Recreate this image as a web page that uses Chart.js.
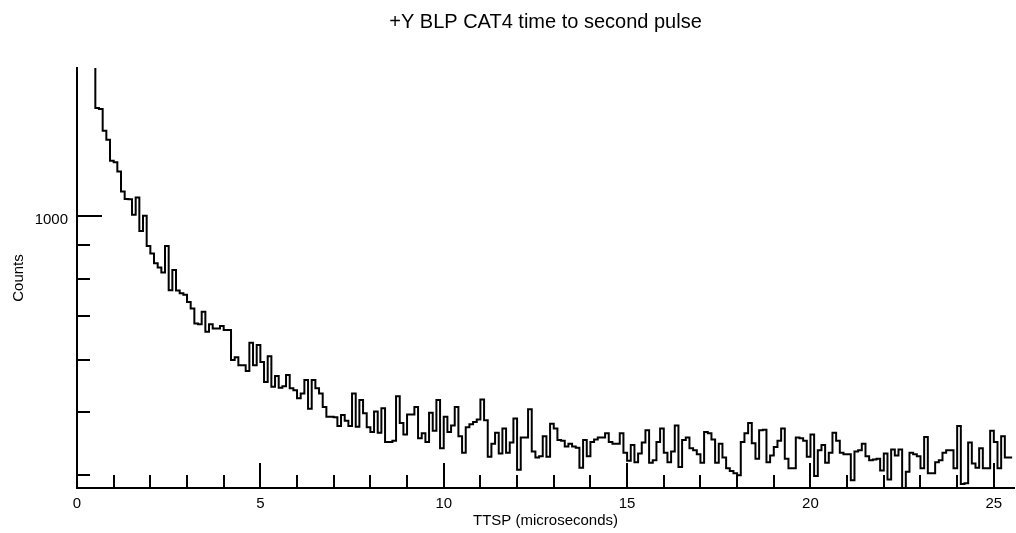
<!DOCTYPE html>
<html>
<head>
<meta charset="utf-8">
<title>TTSP histogram</title>
<script src="https://cdn.jsdelivr.net/npm/chart.js@4.4.1/dist/chart.umd.min.js"></script>
<style>
  html, body { margin: 0; padding: 0; background: #fff; }
  #wrap { width: 1016px; height: 533px; }
</style>
</head>
<body>
<div id="wrap"><canvas id="ttsp-chart" width="1016" height="533"></canvas></div>
<script>
// Time to second pulse, 0.1 us bins starting at 0.5 us
const binStart = 0.5;
const binWidth = 0.1;
const leadCount = 1800; // 0.4-0.5 us bin, off the top of the plot
const counts = [
  1463, 1458, 1350, 1308, 1214, 1208, 1169, 1089, 1061, 1060,
  1003, 1066, 947, 1000, 898, 875, 845, 832, 818, 898,
  768, 825, 767, 760, 756, 737, 720, 683, 681, 712,
  663, 681, 671, 671, 677, 667, 667, 600, 606, 589,
  589, 577, 638, 589, 633, 596, 555, 608, 546, 567,
  544, 547, 569, 543, 539, 524, 533, 559, 505, 559,
  543, 533, 508, 491, 491, 490, 475, 494, 484, 475,
  533, 474, 521, 497, 473, 465, 500, 464, 506, 449,
  449, 451, 528, 480, 461, 495, 495, 508, 455, 463,
  449, 498, 467, 521, 439, 491, 465, 476, 508, 458,
  432, 473, 478, 482, 486, 522, 485, 426, 446, 464,
  431, 471, 432, 448, 488, 407, 456, 456, 504, 434,
  425, 427, 458, 426, 479, 471, 452, 451, 442, 446,
  442, 440, 410, 452, 427, 449, 453, 456, 456, 463,
  449, 446, 446, 463, 432, 420, 444, 418, 431, 448,
  468, 417, 421, 449, 471, 432, 418, 434, 476, 411,
  452, 456, 439, 436, 430, 417, 465, 463, 453, 417,
  446, 425, 409, 405, 402, 399, 449, 463, 480, 447,
  423, 468, 469, 418, 428, 441, 451, 471, 423, 409,
  409, 456, 455, 451, 426, 461, 398, 436, 444, 417,
  432, 464, 451, 432, 430, 430, 392, 434, 436, 446,
  427, 421, 422, 423, 406, 431, 393, 437, 428, 437,
  375, 404, 432, 430, 427, 409, 457, 402, 402, 418,
  421, 432, 436, 436, 409, 475, 387, 388, 448, 416,
  410, 439, 409, 409, 467, 449, 409, 458, 425, 425
];
const xMajorTicks = [0, 5, 10, 15, 20, 25];
const yMajorTicks = [1000];
const yMinorTicks = [400, 500, 600, 700, 800, 900];

const FONT = 'Liberation Sans, Arial, Helvetica, sans-serif';

// histogram outline: one point per left bin edge, plus the closing right edge
const points = [{ x: binStart - binWidth, y: leadCount }];
counts.forEach((c, i) => points.push({ x: binStart + i * binWidth, y: c }));
points.push({ x: binStart + counts.length * binWidth, y: counts[counts.length - 1] });

// tick marks point into the plot, long on labelled values
const innerTicks = {
  id: 'innerTicks',
  afterDatasetsDraw(chart) {
    const { ctx, scales: { x, y } } = chart;
    ctx.save();
    ctx.strokeStyle = '#000';
    ctx.lineWidth = 2;
    ctx.beginPath();
    for (let v = 0; v <= x.max; v += 1) {
      const px = Math.round(x.getPixelForValue(v));
      const len = xMajorTicks.includes(v) ? 25 : 13;
      ctx.moveTo(px, y.bottom);
      ctx.lineTo(px, y.bottom - len);
    }
    yMajorTicks.concat(yMinorTicks).forEach((v) => {
      const py = Math.round(y.getPixelForValue(v));
      const len = yMajorTicks.includes(v) ? 25 : 13;
      ctx.moveTo(x.left, py);
      ctx.lineTo(x.left + len, py);
    });
    ctx.stroke();
    ctx.restore();
  },
};

const ctx = document.getElementById('ttsp-chart').getContext('2d');
new Chart(ctx, {
  type: 'line',
  data: {
    datasets: [
      {
        label: 'Counts',
        data: points,
        stepped: true,
        borderColor: '#000',
        borderWidth: 2,
        pointRadius: 0,
        fill: false,
      },
    ],
  },
  options: {
    responsive: false,
    animation: false,
    devicePixelRatio: 1,
    layout: { padding: { left: 0, right: 2, top: 0, bottom: 0 } },
    plugins: {
      legend: { display: false },
      tooltip: { enabled: false },
      title: {
        display: true,
        text: '+Y BLP CAT4 time to second pulse',
        fullSize: false,
        color: '#000',
        font: { family: FONT, size: 20, weight: 'normal' },
        padding: { top: 10, bottom: 34 },
      },
    },
    scales: {
      x: {
        type: 'linear',
        min: 0,
        max: 25.55,
        afterBuildTicks: (s) => { s.ticks = xMajorTicks.map((v) => ({ value: v })); },
        afterFit: (s) => { s.height = 45; },
        grid: { drawOnChartArea: false, drawTicks: false },
        border: { color: '#000', width: 2 },
        ticks: { color: '#000', font: { family: FONT, size: 15 }, padding: 7, maxRotation: 0 },
        title: {
          display: true,
          text: 'TTSP (microseconds)',
          color: '#000',
          font: { family: FONT, size: 15 },
          padding: { top: 0, bottom: 3 },
        },
      },
      y: {
        type: 'logarithmic',
        min: 381.5,
        max: 1686,
        afterBuildTicks: (s) => { s.ticks = yMajorTicks.map((v) => ({ value: v })); },
        afterFit: (s) => { s.width = 77; },
        grid: { drawOnChartArea: false, drawTicks: false },
        border: { color: '#000', width: 2 },
        ticks: {
          color: '#000',
          font: { family: FONT, size: 15 },
          padding: 9,
          labelOffset: 4,
          callback: (v) => String(v),
        },
        title: {
          display: true,
          text: 'Counts',
          color: '#000',
          font: { family: FONT, size: 15 },
          padding: { top: 9.5, bottom: 0 },
        },
      },
    },
  },
  plugins: [innerTicks],
});
</script>
</body>
</html>
